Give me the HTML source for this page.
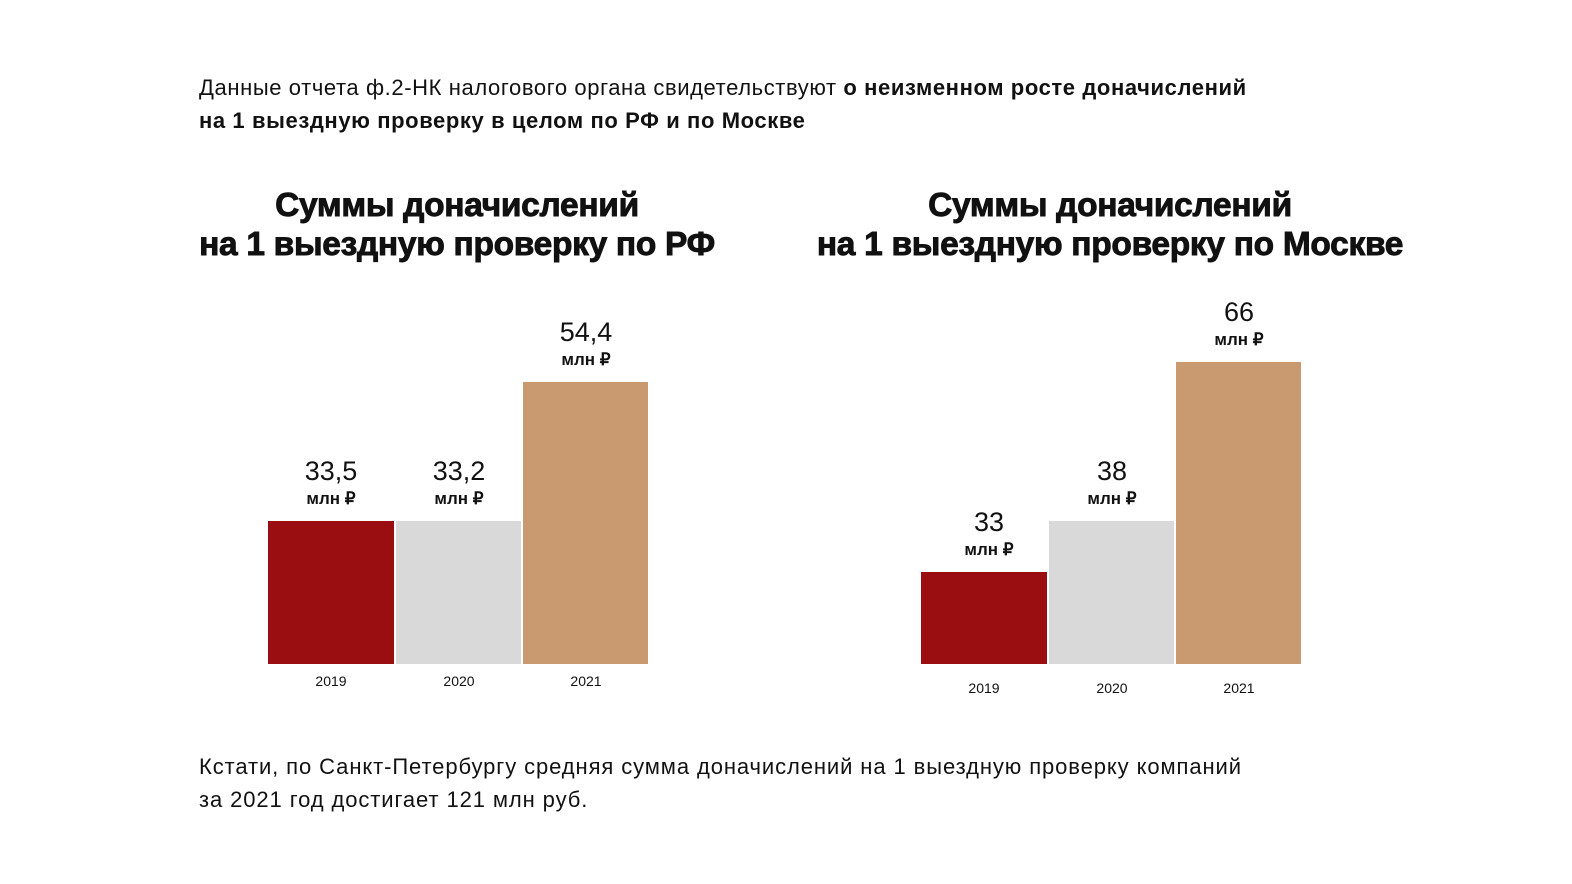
<!DOCTYPE html>
<html><head><meta charset="utf-8"><style>
body{margin:0;width:1572px;height:884px;background:#fff;font-family:"Liberation Sans",sans-serif;color:#111;position:relative;overflow:hidden}
.a{position:absolute}
.p{left:199px;font-size:22px;line-height:33px;white-space:nowrap}
.t{font-size:33.5px;font-weight:900;text-align:center;line-height:39px;letter-spacing:-0.3px;-webkit-text-stroke:0.9px #111;white-space:nowrap}
.bar{position:absolute}
.v{position:absolute;text-align:center;width:126px}
.v b{display:block;font-size:27px;font-weight:500;line-height:30px}
.v i{display:block;font-style:normal;font-size:17px;font-weight:bold;line-height:26px}
.y{position:absolute;width:126px;text-align:center;font-size:14px}
</style></head><body>
<div class="a p" style="top:71px;letter-spacing:0.6px">Данные отчета ф.2-НК налогового органа свидетельствуют <b>о неизменном росте доначислений</b></div>
<div class="a p" style="top:104px;letter-spacing:0.6px"><b>на 1 выездную проверку в целом по РФ и по Москве</b></div>

<div class="a t" style="left:157px;width:600px;top:186px">Суммы доначислений<br>на 1 выездную проверку по РФ</div>
<div class="a t" style="left:790px;width:640px;top:186px">Суммы доначислений<br>на 1 выездную проверку по Москве</div>

<div class="bar" style="left:268px;top:521px;width:126px;height:143px;background:#9a0e12"></div>
<div class="bar" style="left:396px;top:521px;width:125px;height:143px;background:#d9d9d9"></div>
<div class="bar" style="left:523px;top:382px;width:125px;height:282px;background:#c99a70"></div>
<div class="v" style="left:268px;top:456px"><b>33,5</b><i>млн ₽</i></div>
<div class="v" style="left:396px;top:456px"><b>33,2</b><i>млн ₽</i></div>
<div class="v" style="left:523px;top:317px"><b>54,4</b><i>млн ₽</i></div>
<div class="y" style="left:268px;top:673px">2019</div>
<div class="y" style="left:396px;top:673px">2020</div>
<div class="y" style="left:523px;top:673px">2021</div>

<div class="bar" style="left:921px;top:572px;width:126px;height:92px;background:#9a0e12"></div>
<div class="bar" style="left:1049px;top:521px;width:125px;height:143px;background:#d9d9d9"></div>
<div class="bar" style="left:1176px;top:362px;width:125px;height:302px;background:#c99a70"></div>
<div class="v" style="left:926px;top:507px"><b>33</b><i>млн ₽</i></div>
<div class="v" style="left:1049px;top:456px"><b>38</b><i>млн ₽</i></div>
<div class="v" style="left:1176px;top:297px"><b>66</b><i>млн ₽</i></div>
<div class="y" style="left:921px;top:680px">2019</div>
<div class="y" style="left:1049px;top:680px">2020</div>
<div class="y" style="left:1176px;top:680px">2021</div>

<div class="a p" style="top:750px;letter-spacing:0.9px">Кстати, по Санкт-Петербургу средняя сумма доначислений на 1 выездную проверку компаний</div>
<div class="a p" style="top:783px;letter-spacing:0.9px">за 2021 год достигает 121 млн руб.</div>
</body></html>
